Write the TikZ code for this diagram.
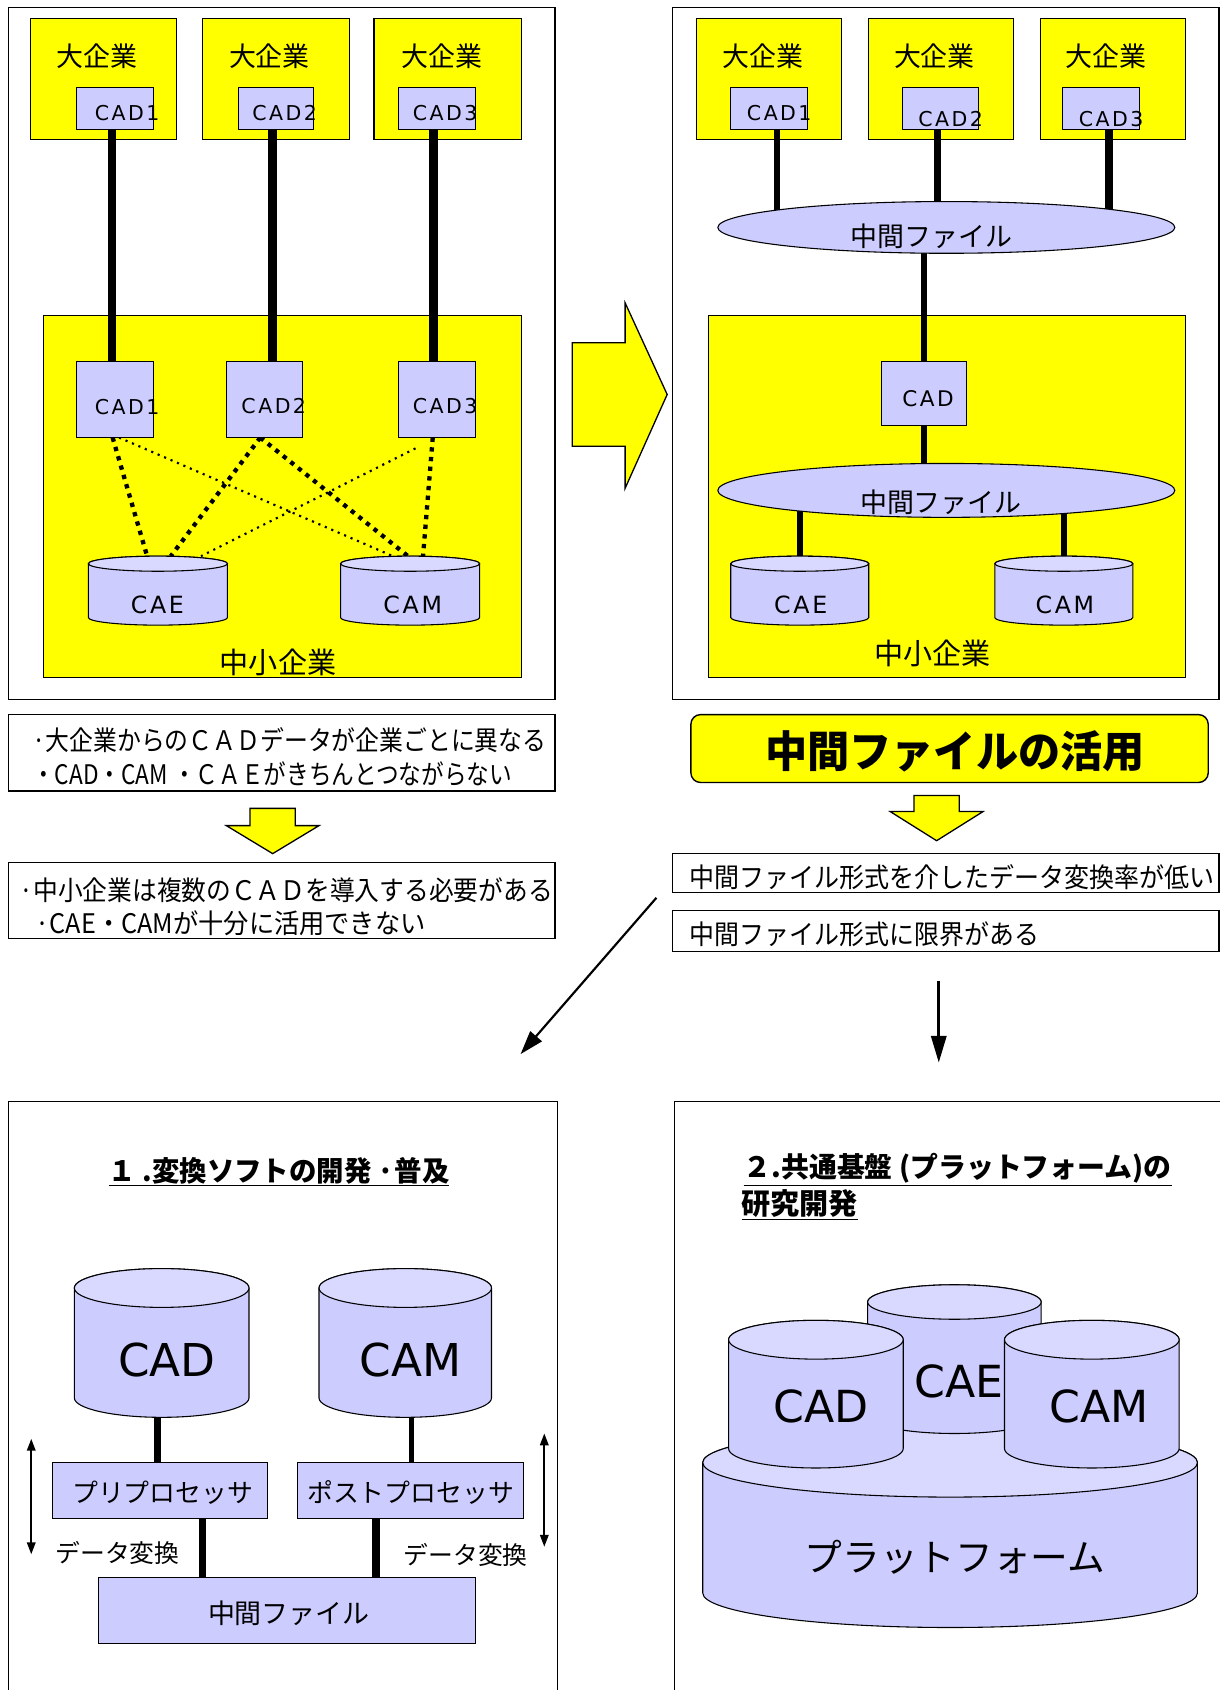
\documentclass[tikz,border=0pt]{standalone}
\usepackage{fontspec}
\setmainfont{Noto Sans CJK JP}
\newfontfamily\lat{DejaVu Sans}
\usetikzlibrary{arrows.meta,fit,shapes.geometric}
\definecolor{lav}{HTML}{CCCCFF}
\definecolor{lavtop}{HTML}{D9D9FF}
\definecolor{yel}{HTML}{FFFF00}
\pgfdeclarelayer{back}
\pgfdeclarelayer{mid}
\pgfsetlayers{back,mid,main}
\newcommand\fitw[2]{\resizebox{#1}{\height}{#2}}
\newcommand\fsz[1]{\fontsize{#1}{#1}\selectfont}
\newcommand\kk{\kern2.3pt}
\newcommand\kc{\kern2.5pt}
\newcommand\mycyl[9]{%
  \pgfmathsetmacro\cylrx{(#3-#2)/2}%
  \pgfmathsetmacro\cylcx{(#3+#2)/2}%
  \pgfmathsetmacro\cylyt{#4+#6}%
  \pgfmathsetmacro\cylyb{#5-#6}%
  \filldraw[cylbody] (#2,\cylyt) -- (#2,\cylyb) arc[start angle=180,end angle=360,x radius=\cylrx pt,y radius=#6 pt] -- (#3,\cylyt) arc[start angle=0,end angle=180,x radius=\cylrx pt,y radius=#6 pt] -- cycle;
  \filldraw[cyltop] (\cylcx,\cylyt) ellipse[x radius=\cylrx pt,y radius=#6 pt];
  \node[fit={(#2,#4) (#3,#5)}, inner sep=0pt, outer sep=0pt] (#1) {};
  \node[txt] (#1-l) at (#7,#8) {#9};
}
\tikzset{
  box/.style={inner sep=0pt, outer sep=0pt, line width=1pt},
  panel/.style={box, draw=black, line width=1.3pt},
  yelbox/.style={box, draw=black, fill=yel},
  lavbox/.style={box, draw=black, fill=lav},
  txt/.style={inner sep=0pt, outer sep=0pt},
  conn/.style={line width=8pt},
  hdot/.style={line width=4pt, dash pattern=on 4pt off 5pt},
  tdot/.style={line width=2pt, dash pattern=on 2pt off 4.5pt},
  cylbody/.style={draw=black, fill=lav, line width=1pt},
  cyltop/.style={draw=black, fill=lavtop, line width=1pt},
  yelarrow/.style={draw=black, fill=yel, line width=1.2pt, line join=miter},
  fellipse/.style={ellipse, draw=black, fill=lav, line width=1pt, inner sep=0pt},
  dbl/.style={line width=1.5pt, {Triangle[length=11pt,width=8pt]}-{Triangle[length=11pt,width=8pt]}},
}
\begin{document}
\begin{tikzpicture}[x=1pt,y=-1pt]
\useasboundingbox (0,0) rectangle (1132,1568);
\begin{pgfonlayer}{back}
  \fill[white] (0,0) rectangle (1132,1568);
  % panel A
  \node[panel, fit={(8,7) (515,649)}] (panA) {};
  \node[yelbox, fit={(28.5,17.5) (164,129.5)}] (bigA1) {};
  \node[yelbox, fit={(188,17.5) (324,129.5)}] (bigA2) {};
  \node[yelbox, fit={(347,17.5) (484,129.5)}] (bigA3) {};
  \node[yelbox, fit={(40,293) (484,629)}] (smeA) {};
  % panel B
  \node[panel, fit={(624,7) (1131,649)}] (panB) {};
  \node[yelbox, fit={(646,17.5) (781,129.5)}] (bigB1) {};
  \node[yelbox, fit={(806,17.5) (940,129.5)}] (bigB2) {};
  \node[yelbox, fit={(965,17.5) (1100,129.5)}] (bigB3) {};
  \node[yelbox, fit={(657,293) (1100,629)}] (smeB) {};
\end{pgfonlayer}

% ---------- panel A contents
\node[txt, font=\fsz{25}] (labA1) at (90,52) {大企業};
\node[txt, font=\fsz{25}] (labA2) at (250,52) {大企業};
\node[txt, font=\fsz{25}] (labA3) at (410,52) {大企業};
\node[lavbox, fit={(71,81) (142,120)}] (tcA1) {};
\node[lavbox, fit={(221,81) (291,120)}] (tcA2) {};
\node[lavbox, fit={(370,81) (441,120)}] (tcA3) {};
\node[txt, font=\lat\fsz{19}] (tcA1t) at (118,105) {C\kk A\kk D\kk 1};
\node[txt, font=\lat\fsz{19}] (tcA2t) at (264,105) {C\kk A\kk D\kk 2};
\node[txt, font=\lat\fsz{19}] (tcA3t) at (413,105) {C\kk A\kk D\kk 3};
\node[lavbox, fit={(71,335) (142,406)}] (lcA1) {};
\node[lavbox, fit={(210,335) (281,406)}] (lcA2) {};
\node[lavbox, fit={(370,335) (441,406)}] (lcA3) {};
\node[txt, font=\lat\fsz{19}] (lcA1t) at (118,378) {C\kk A\kk D\kk 1};
\node[txt, font=\lat\fsz{19}] (lcA2t) at (254,377) {C\kk A\kk D\kk 2};
\node[txt, font=\lat\fsz{19}] (lcA3t) at (413,377) {C\kk A\kk D\kk 3};
\mycyl{caeA}{82}{211}{516}{580}{7}{146}{561}{\lat\fsz{22}C\kc A\kc E}
\mycyl{camA}{316}{445}{516}{580}{7}{383}{561}{\lat\fsz{22}C\kc A\kc M}
\node[txt, font=\fsz{27}] (smeAt) at (258,615) {中小企業};

\begin{pgfonlayer}{mid}
  \draw[conn] ([xshift=-2.5pt]tcA1.south) -- ([xshift=-2.5pt]tcA1.south |- lcA1.north);
  \draw[conn] ([xshift=-3pt]tcA2.south) -- ([xshift=-3pt]tcA2.south |- lcA2.north);
  \draw[conn] ([xshift=-3.5pt]tcA3.south) -- ([xshift=-3.5pt]tcA3.south |- lcA3.north);
  \draw[hdot] ([xshift=-2pt]lcA1.south) -- ([xshift=-10pt]caeA.north);
  \draw[hdot] ([xshift=-4pt]lcA2.south) -- ([xshift=12pt]caeA.north);
  \draw[hdot] ([xshift=-4pt]lcA2.south) -- ([xshift=-2pt]camA.north);
  \draw[hdot] ([xshift=-4pt]lcA3.south) -- ([xshift=12pt]camA.north);
  \draw[tdot] ([xshift=4pt]lcA1.south) -- ([xshift=-16pt]camA.north);
  \draw[tdot] ([xshift=-20pt,yshift=-10pt]lcA3.south) -- ([xshift=40pt]caeA.north);
\end{pgfonlayer}

% ---------- arrow between panels
\draw[yelarrow] (531,318) -- (580,318) -- (580,281) -- (619,366) -- (580,453) -- (580,414) -- (531,414) -- cycle;

% ---------- panel B contents
\node[txt, font=\fsz{25}] (labB1) at (708,52) {大企業};
\node[txt, font=\fsz{25}] (labB2) at (867,52) {大企業};
\node[txt, font=\fsz{25}] (labB3) at (1026,52) {大企業};
\node[lavbox, fit={(678,81) (749,120)}] (tcB1) {};
\node[lavbox, fit={(837,81) (908,120)}] (tcB2) {};
\node[lavbox, fit={(986,81) (1057,120)}] (tcB3) {};
\node[txt, font=\lat\fsz{19}] (tcB1t) at (723,105) {C\kk A\kk D\kk 1};
\node[txt, font=\lat\fsz{19}] (tcB2t) at (882,110) {C\kk A\kk D\kk 2};
\node[txt, font=\lat\fsz{19}] (tcB3t) at (1031,110) {C\kk A\kk D\kk 3};
\node[fellipse, minimum width=424pt, minimum height=48pt] (ellB1) at (878,211) {};
\node[txt, font=\fsz{25}] (ellB1t) at (864,219) {中間ファイル};
\node[lavbox, fit={(818,335) (897,395)}] (cadB) {};
\node[txt, font=\lat\fsz{20}] (cadBt) at (861,370) {C\kk A\kk D};
\node[fellipse, minimum width=424pt, minimum height=50pt] (ellB2) at (878,455) {};
\node[txt, font=\fsz{25}] (ellB2t) at (873,466) {中間ファイル};
\mycyl{caeB}{678}{806}{516}{580}{7}{743}{561}{\lat\fsz{22}C\kc A\kc E}
\mycyl{camB}{923}{1051}{516}{580}{7}{988}{561}{\lat\fsz{22}C\kc A\kc M}
\node[txt, font=\fsz{27}] (smeBt) at (865,606) {中小企業};

\begin{pgfonlayer}{mid}
  \draw[conn, line width=5pt] ([xshift=7.5pt]tcB1.south) -- ([xshift=7.5pt]tcB1.south |- ellB1.center);
  \draw[conn, line width=7pt] ([xshift=-2.5pt]tcB2.south) -- ([xshift=-2.5pt]tcB2.south |- ellB1.center);
  \draw[conn, line width=7pt] ([xshift=7.5pt]tcB3.south) -- ([xshift=7.5pt]tcB3.south |- ellB1.center);
  \draw[conn, line width=6pt] (cadB.north |- ellB1.center) -- (cadB.north);
  \draw[conn, line width=6pt] (cadB.south) -- (cadB.south |- ellB2.center);
  \draw[conn, line width=6pt] (caeB.north |- ellB2.center) -- (caeB.north);
  \draw[conn, line width=6pt] (camB.north |- ellB2.center) -- (camB.north);
\end{pgfonlayer}

% ---------- middle row
\node[panel, fit={(8,663) (515,734)}] (tbL1) {};
\node[txt, anchor=west, font=\fsz{25}] (tL1a) at (30,687) {\fitw{477pt}{·大企業からのＣＡＤデータが企業ごとに異なる}};
\node[txt, anchor=west, font=\fsz{25}] (tL1b) at (30,718) {\fitw{445pt}{・CAD・CAM ・ＣＡＥがきちんとつながらない}};
\draw[yelarrow] (232,750) -- (274,750) -- (274,766) -- (296,766) -- (253,792) -- (210,766) -- (232,766) -- cycle;
\node[panel, fit={(8,800) (515,871)}] (tbL2) {};
\node[txt, anchor=west, font=\fsz{25}] (tL2a) at (18,826) {\fitw{495pt}{·中小企業は複数のＣＡＤを導入する必要がある}};
\node[txt, anchor=west, font=\fsz{25}] (tL2b) at (33,857) {\fitw{362pt}{·CAE・CAMが十分に活用できない}};

\node[box, draw=black, fill=yel, rounded corners=9pt, line width=1.3pt, fit={(641,663) (1121,726)}] (keyB) {};
\node[txt, font=\bfseries\fsz{40}] (keyBt) at (886,697) {\fitw{352pt}{中間ファイルの活用}};
\draw[yelarrow] (848,738) -- (890,738) -- (890,753) -- (912,753) -- (869,780) -- (826,753) -- (848,753) -- cycle;
\node[panel, fit={(624,792) (1131,828)}] (tbR1) {};
\node[txt, anchor=west, font=\fsz{25}] (tR1) at (640,814) {\fitw{487pt}{中間ファイル形式を介したデータ変換率が低い}};
\node[panel, fit={(624,845) (1131,883)}] (tbR2) {};
\node[txt, anchor=west, font=\fsz{25}] (tR2) at (640,867) {\fitw{324pt}{中間ファイル形式に限界がある}};

\coordinate (dgS) at (609,833);
\coordinate (dgE) at (483,978);
\draw[line width=2pt, -{Triangle[length=22pt,width=14pt]}] (dgS) -- (dgE);
\coordinate (dnS) at (871,910);
\coordinate (dnE) at (871,986);
\draw[line width=3pt, -{Triangle[length=25pt,width=14pt]}] (dnS) -- (dnE);

% ---------- bottom left panel
\draw[panel] (8,1568) -- (8,1022) -- (517,1022) -- (517,1568);
\node[txt, font=\bfseries\fsz{26}] (titC) at (259,1087) {\fitw{316pt}{\underline{１ .変換ソフトの開発 ·普及}}};
\mycyl{cadC}{69}{231}{1177}{1315}{18}{155}{1262}{\lat\fsz{42}CAD}
\mycyl{camC}{296}{456}{1177}{1315}{18}{381}{1262}{\lat\fsz{42}CAM}
\node[lavbox, fit={(49,1357) (248,1409)}] (preC) {};
\node[txt, font=\fsz{24}] (preCt) at (151,1385) {プリプロセッサ};
\node[lavbox, fit={(276,1357) (486,1409)}] (postC) {};
\node[txt, font=\fsz{24}] (postCt) at (381,1385) {ポストプロセッサ};
\node[lavbox, fit={(91,1464) (441,1525)}] (midC) {};
\node[txt, font=\fsz{25}] (midCt) at (268,1497) {中間ファイル};
\node[txt, font=\fsz{23}] (dcL) at (109,1441) {データ変換};
\node[txt, font=\fsz{23}] (dcR) at (432,1443) {データ変換};
\begin{pgfonlayer}{mid}
  \draw[conn, line width=7pt] ([xshift=-4pt]cadC.south) -- ([xshift=-4pt]cadC.south |- preC.north);
  \draw[conn, line width=5pt] ([xshift=6pt]camC.south) -- ([xshift=6pt]camC.south |- postC.north);
  \draw[conn, line width=7pt] ([xshift=39.5pt]preC.south) -- ([xshift=39.5pt]preC.south |- midC.north);
  \draw[conn, line width=7pt] ([xshift=-32pt]postC.south) -- ([xshift=-32pt]postC.south |- midC.north);
\end{pgfonlayer}
\coordinate (daL1) at (29,1335);
\coordinate (daL2) at (29,1442);
\coordinate (daR1) at (505,1330);
\coordinate (daR2) at (505,1435);
\draw[dbl] (daL1) -- (daL2);
\draw[dbl] (daR1) -- (daR2);

% ---------- bottom right panel
\draw[panel] (626,1568) -- (626,1022) -- (1132,1022);
\node[txt, anchor=west, font=\bfseries\fsz{26}] (titD1) at (690,1085) {\fitw{397pt}{\underline{２.共通基盤 (プラットフォーム)の}}};
\node[txt, anchor=west, font=\bfseries\fsz{27}] (titD2) at (688,1118) {\underline{研究開発}};
\mycyl{platD}{652}{1111}{1325}{1510}{32}{886}{1445}{\fsz{35}プラットフォーム}
\mycyl{caeD}{805}{966}{1192}{1330}{16}{890}{1282}{\lat\fsz{41}CAE}
\mycyl{cadD}{676}{838}{1225}{1362}{18}{762}{1305}{\lat\fsz{41}CAD}
\mycyl{camD}{932}{1094}{1225}{1362}{18}{1020}{1305}{\lat\fsz{41}CAM}
\end{tikzpicture}
\end{document}
